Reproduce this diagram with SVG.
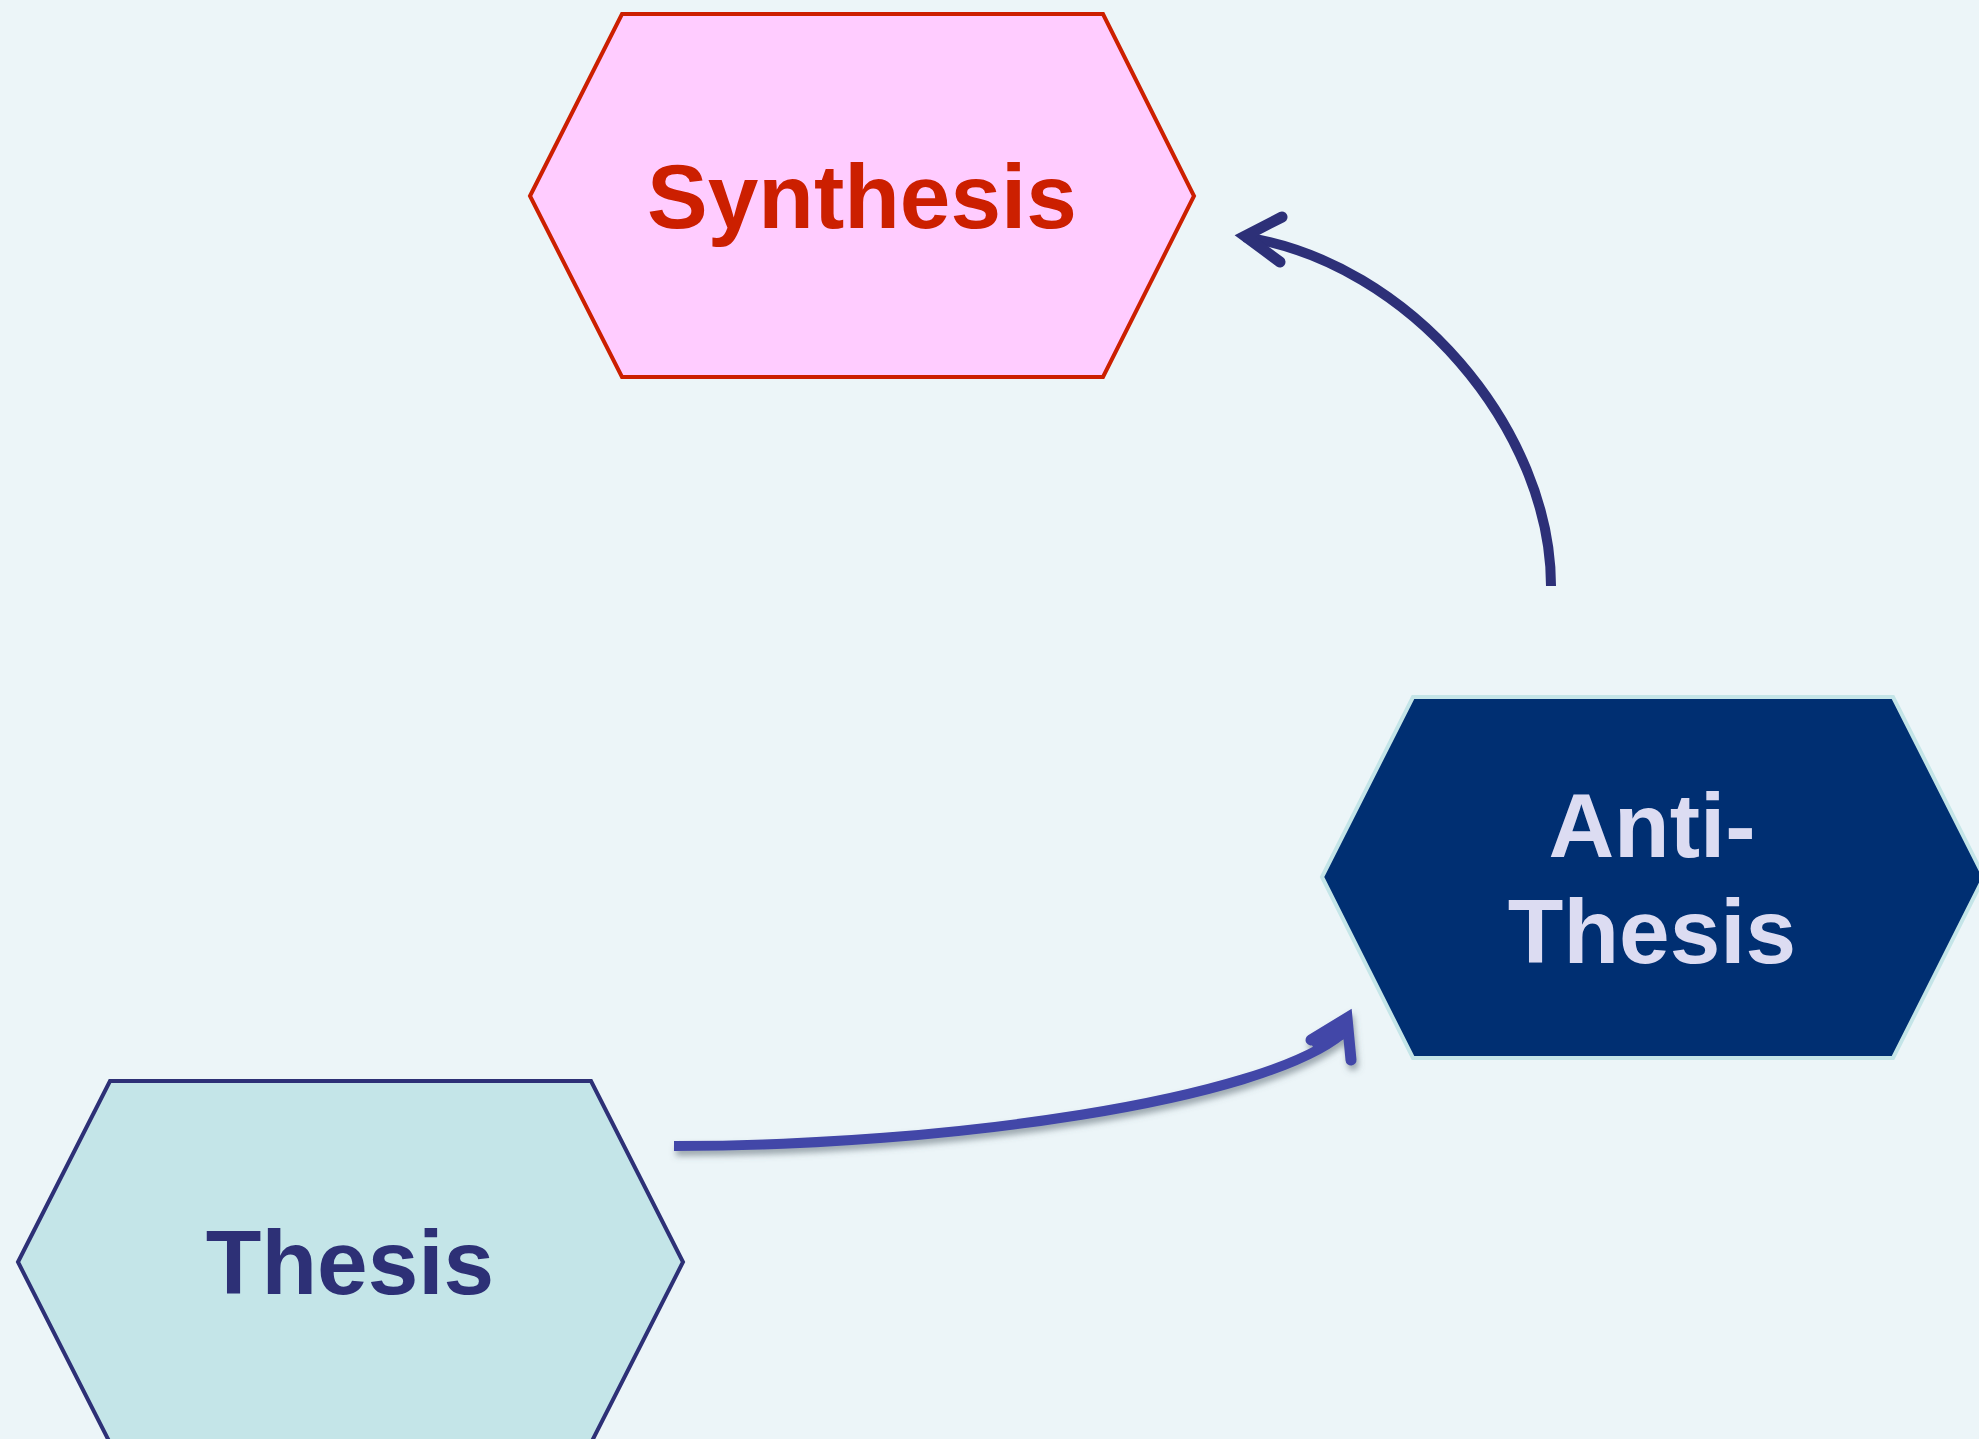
<svg xmlns="http://www.w3.org/2000/svg" width="1979" height="1439" viewBox="0 0 1979 1439">
  <style>
    .lbl { font-family: "Liberation Sans", Arial, sans-serif; font-weight: bold; font-size: 91px; text-anchor: middle; }
    .hex { stroke-width: 4; stroke-linejoin: miter; }
    .head { stroke-linecap: round; stroke-linejoin: miter; stroke-miterlimit: 10; stroke-width: 11; }
  </style>
  <defs>
    <filter id="shadow" x="-10%" y="-50%" width="120%" height="200%">
      <feDropShadow dx="2" dy="5" stdDeviation="3" flood-color="#5a6670" flood-opacity="0.55"/>
    </filter>
  </defs>
  <rect x="0" y="0" width="1979" height="1439" fill="#ecf5f8"/>

  <g id="node-synthesis">
    <polygon class="hex" points="530,196 622,14 1103,14 1194,196 1103,377 622,377" fill="#ffccff" stroke="#cc1f00"/>
    <text class="lbl" x="862" y="228" fill="#cc1f00">Synthesis</text>
  </g>

  <g id="node-antithesis">
    <polygon class="hex" points="1322,877 1413,697 1893,697 1984,877 1893,1058 1413,1058" fill="#002f72" stroke="#c4e5e8"/>
    <text class="lbl" x="1652" y="857" fill="#dcdcf2">Anti-</text>
    <text class="lbl" x="1652" y="963" fill="#dcdcf2">Thesis</text>
  </g>

  <g id="node-thesis">
    <polygon class="hex" points="18,1262 110,1081 591,1081 683,1262 591,1443 110,1443" fill="#c4e5e8" stroke="#2d3076"/>
    <text class="lbl" x="350" y="1294" fill="#2d3076">Thesis</text>
  </g>

  <g id="connectors" fill="none">
    <g id="edge-anti-to-synth" stroke="#2d3078">
      <path d="M1551,586 C1551,430 1410,262 1244,237" stroke-width="10"/>
      <polyline class="head" points="1282,217 1245,236 1280,262"/>
    </g>
    <g id="edge-thesis-to-anti" stroke="#4347a8" filter="url(#shadow)">
      <path d="M674,1146 C950,1146 1262,1100 1342,1034" stroke-width="10"/>
      <polyline class="head" points="1311,1040 1347,1018 1351,1060"/>
      <polygon points="1311,1040 1347,1018 1347,1036 1316,1048" fill="#4347a8" stroke-width="4" stroke-linejoin="round"/>
    </g>
  </g>
</svg>
